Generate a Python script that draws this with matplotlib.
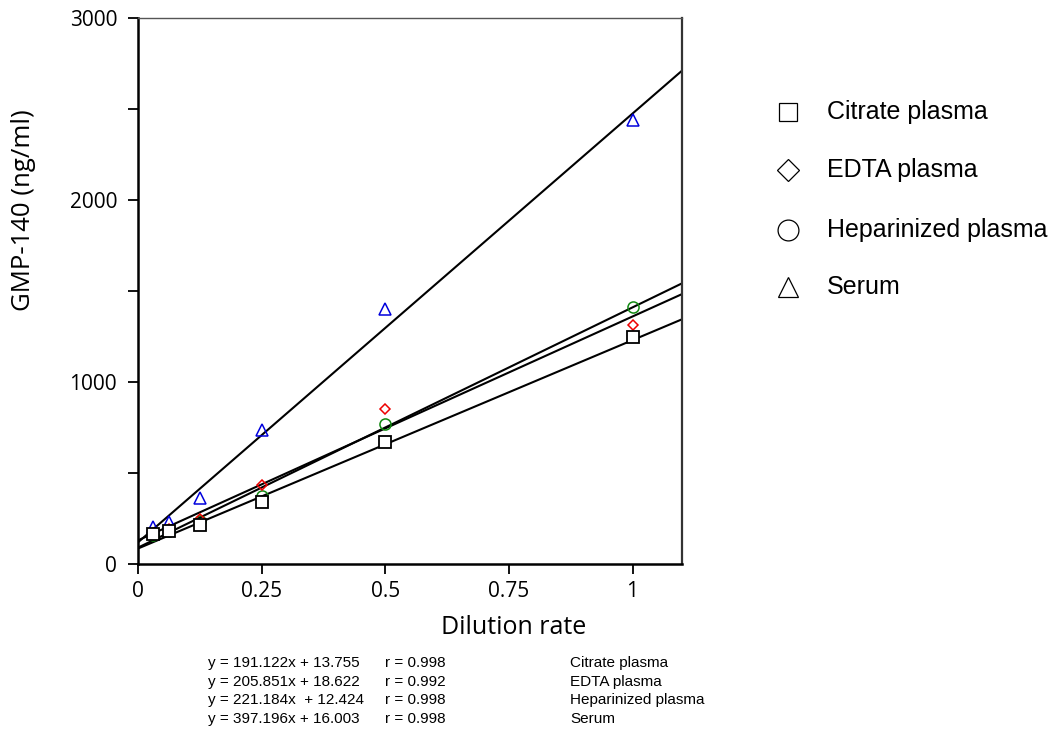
import numpy as np
import matplotlib
matplotlib.use("Agg")
import matplotlib.pyplot as plt
from matplotlib.lines import Line2D

# ---------------------------------------------------------------------------
# data
# ---------------------------------------------------------------------------
dilution = [0.03125, 0.0625, 0.125, 0.25, 0.5, 1.0]

citrate = [163, 182, 215, 341, 673, 1245]
edta    = [170, 190, 250, 433, 853, 1312]
heparin = [160, 180, 235, 374, 769, 1414]
serum   = [205, 233, 361, 737, 1403, 2438]

# regression lines as drawn (intercept, slope in plot units)
fit_intercept = {"citrate": 85, "edta": 130, "heparin": 90, "serum": 119}
fit_slope     = {"citrate": 1145, "edta": 1230, "heparin": 1320, "serum": 2356}

series_names = ["Citrate plasma", "EDTA plasma", "Heparinized plasma", "Serum"]
equations = ["y = 191.122x + 13.755", "y = 205.851x + 18.622",
             "y = 221.184x  + 12.424", "y = 397.196x + 16.003"]
r_values = ["r = 0.998", "r = 0.992", "r = 0.998", "r = 0.998"]

x_ticks = [0, 0.25, 0.5, 0.75, 1]
x_ticklabels = ["0", "0.25", "0.5", "0.75", "1"]
y_major = [0, 1000, 2000, 3000]
y_minor = [500, 1500, 2500]

# ---------------------------------------------------------------------------
TICK_FONT = "Open Sans"
TEXT_FONT = "Liberation Sans"
W, H = 1061, 744

fig = plt.figure(figsize=(W/100, H/100), dpi=100)
ax = fig.add_axes([138/W, 1-564/H, (682-138)/W, (564-18)/H])

xfit = np.array([0, 1.1])
for key in ["serum", "heparin", "edta", "citrate"]:
    ax.plot(xfit, fit_intercept[key] + fit_slope[key]*xfit, color="black",
            lw=1.5, zorder=2, solid_capstyle="butt")

ax.plot(dilution, serum, ls="none", marker="^", ms=8, mfc="none",
        mec="#0000dd", mew=1.1, zorder=3)
ax.plot(dilution, heparin, ls="none", marker="o", ms=8, mfc="none",
        mec="#118811", mew=1.1, zorder=3)
ax.plot(dilution, edta, ls="none", marker="D", ms=5.5, mfc="none",
        mec="#ee0000", mew=1.1, zorder=3)
ax.plot(dilution, citrate, ls="none", marker="s", ms=8.5, mfc="white",
        mec="black", mew=1.3, zorder=4)

ax.set_xlim(0, 1.1)
ax.set_ylim(0, 3000)
ax.set_xticks(x_ticks)
ax.set_xticklabels(x_ticklabels, fontfamily=TICK_FONT, fontsize=15)
ax.set_yticks(y_major)
ax.set_yticks(y_minor, minor=True)
ax.set_yticklabels([str(v) for v in y_major], fontfamily=TICK_FONT, fontsize=15)
ax.tick_params(axis="both", which="both", direction="out", length=7,
               width=1.3, color="black")
ax.tick_params(axis="x", pad=5)
ax.tick_params(axis="y", pad=8)
for side in ["left", "bottom"]:
    ax.spines[side].set_linewidth(1.8)
ax.spines["right"].set_linewidth(1.6)
ax.spines["right"].set_color("#333333")
ax.spines["top"].set_linewidth(1.0)
ax.spines["top"].set_color("#555555")

fig.text(514/W, 1-634/H, "Dilution rate", ha="center", va="baseline",
         fontfamily=TICK_FONT, fontsize=18)
fig.text(24/W, 1-210/H, "GMP-140 (ng/ml)", ha="center", va="center",
         rotation=90, fontfamily=TICK_FONT, fontsize=18.5)

# legend (markers on the right side)
leg_markers = ["s", "D", "o", "^"]
leg_ms = [13.5, 11, 15, 14.5]
leg_y = [112, 170, 230, 287]
for name, mk, ms, yy in zip(series_names, leg_markers, leg_ms, leg_y):
    fig.add_artist(Line2D([788/W], [1-yy/H], transform=fig.transFigure,
                          marker=mk, ms=ms, mfc="none", mec="black", mew=0.9,
                          ls="none"))
    fig.text(827/W, 1-yy/H, name, ha="left", va="center",
             fontfamily=TEXT_FONT, fontsize=18)

# regression equations below the plot
eq_y = [663, 682, 700, 719]
for eq, r, name, yy in zip(equations, r_values, series_names, eq_y):
    fig.text(208/W, 1-yy/H, eq, ha="left", va="center",
             fontfamily=TEXT_FONT, fontsize=11)
    fig.text(385/W, 1-yy/H, r, ha="left", va="center",
             fontfamily=TEXT_FONT, fontsize=11)
    fig.text(570/W, 1-yy/H, name, ha="left", va="center",
             fontfamily=TEXT_FONT, fontsize=11)

fig.savefig("out.png", dpi=100)
